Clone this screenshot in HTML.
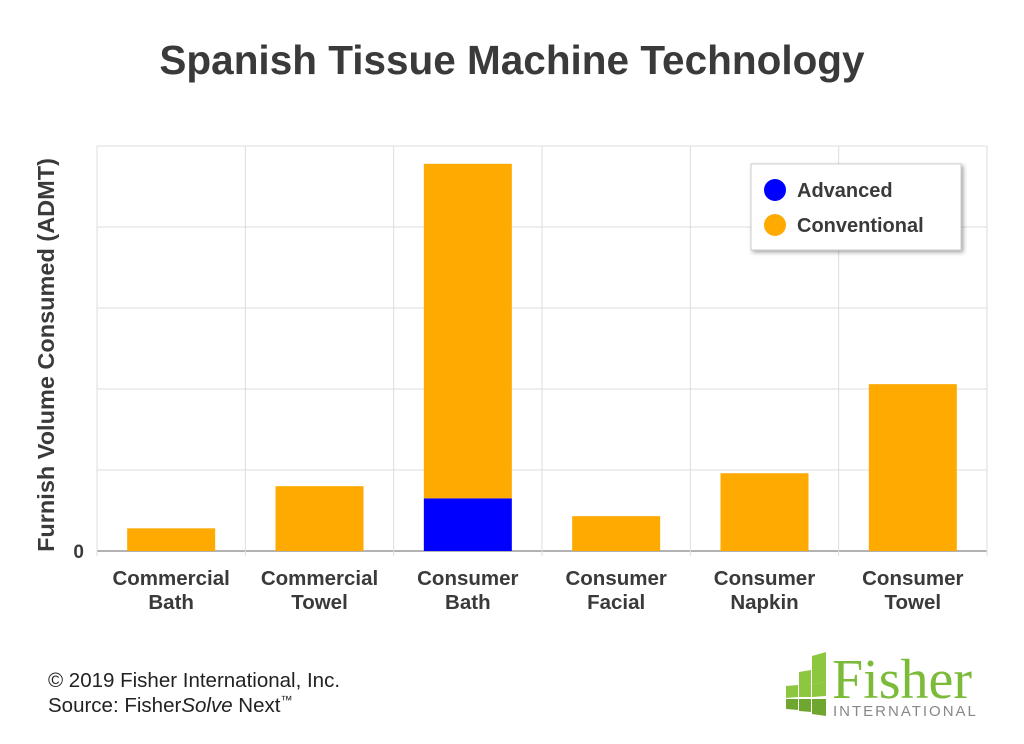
<!DOCTYPE html>
<html><head><meta charset="utf-8"><style>
body{margin:0;width:1024px;height:739px;background:#fff;font-family:"Liberation Sans",sans-serif;overflow:hidden}
</style></head><body>
<svg width="1024" height="739">
<text x="512" y="74" text-anchor="middle" font-size="40.5" font-weight="bold" fill="#3a3a3a">Spanish Tissue Machine Technology</text>
<text transform="translate(54,355) rotate(-90)" text-anchor="middle" font-size="23.5" font-weight="bold" fill="#3a3a3a">Furnish Volume Consumed (ADMT)</text>
<g id="grid"></g>
<g id="bars"></g>
<g id="xl"></g>
<text x="84" y="558" text-anchor="end" font-size="19" font-weight="bold" fill="#3a3a3a">0</text>
<g>
<rect x="751" y="164" width="210" height="86" fill="#fff" stroke="#ccc" style="filter:drop-shadow(2px 2px 2px rgba(0,0,0,0.35))"/>
<circle cx="775" cy="190" r="11" fill="#0000ff"/>
<text x="797" y="197" font-size="20" font-weight="bold" fill="#3a3a3a">Advanced</text>
<circle cx="775" cy="225" r="11" fill="#ffaa00"/>
<text x="797" y="232" font-size="20" font-weight="bold" fill="#3a3a3a">Conventional</text>
</g>
<text x="48" y="687" font-size="20.5" fill="#222">© 2019 Fisher International, Inc.</text>
<text x="48" y="712" font-size="20.5" fill="#222">Source: Fisher<tspan font-style="italic">Solve</tspan> Next<tspan font-size="12" dy="-8">™</tspan></text>
<g>
<g fill="#8dc63f">
<polygon points="812,656 826,652 826,668 812,671"/><polygon points="799,672 811,670 811,684 799,686"/><polygon points="812,670 826,668 826,682 812,684"/>
<polygon points="786,686 798,685 798,697 786,698"/><polygon points="799,685 811,684 811,697 799,697"/><polygon points="812,684 826,682 826,696 812,697"/>
<polygon points="786,699 798,699 798,710 786,709" fill="#6fa62f"/><polygon points="799,699 811,699 811,712 799,711" fill="#6fa62f"/><polygon points="812,699 826,699 826,716 812,714" fill="#6fa62f"/>
</g>
<text x="832" y="698" font-family="Liberation Serif,serif" font-size="56" fill="#7cbb3a">Fisher</text>
<text x="833" y="716" font-size="15" letter-spacing="2" fill="#888">INTERNATIONAL</text>
</g>
</svg>
<script>
const categories=[["Commercial","Bath"],["Commercial","Towel"],["Consumer","Bath"],["Consumer","Facial"],["Consumer","Napkin"],["Consumer","Towel"]];
const advanced=[0,0,0.65,0,0,0];
const conventional=[0.28,0.80,4.13,0.43,0.96,2.06];
const gridValues=[0,1,2,3,4,5];
const ns="http://www.w3.org/2000/svg";
const X0=97,X1=987,Y0=551,UNIT=81,BW=88;
const step=(X1-X0)/categories.length;
const y=v=>Y0-v*UNIT;
function mk(t,a,p){const e=document.createElementNS(ns,t);for(const k in a)e.setAttribute(k,a[k]);p.appendChild(e);return e;}
const g=document.getElementById('grid');
gridValues.forEach(v=>{const l=mk('line',{x1:X0,x2:X1,y1:y(v),y2:y(v),stroke:v===0?'#999':'#ddd','stroke-width':v===0?1.5:1},g);

});
for(let i=0;i<=categories.length;i++){const x=X0+i*step;const l=mk('line',{x1:x,x2:x,y1:y(5),y2:Y0+5,stroke:'#ddd'},g);

}
const b=document.getElementById('bars'),xl=document.getElementById('xl');
categories.forEach((c,i)=>{const cx=X0+(i+0.5)*step;
const a=advanced[i],cv=conventional[i];
if(a>0){const r=mk('rect',{x:cx-BW/2,y:y(a),width:BW,height:a*UNIT,fill:'#0000ff'},b);

}
const r2=mk('rect',{x:cx-BW/2,y:y(a+cv),width:BW,height:cv*UNIT,fill:'#ffaa00'},b);


c.forEach((s,j)=>{const t=mk('text',{x:cx,y:585+j*24,'text-anchor':'middle','font-size':20.5,'font-weight':'bold',fill:'#3a3a3a'},xl);t.textContent=s;

});
});
</script>
</body></html>
